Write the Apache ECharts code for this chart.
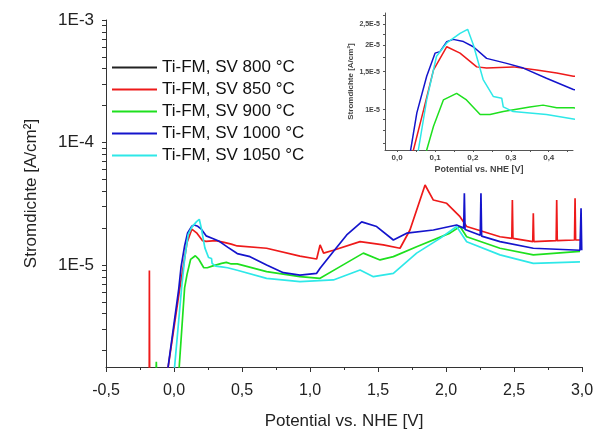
<!DOCTYPE html>
<html>
<head>
<meta charset="utf-8">
<script src="https://cdn.jsdelivr.net/npm/echarts@6/dist/echarts.min.js"></script>
<style>html,body{margin:0;padding:0;background:#fff}#c{width:595px;height:432px}</style>
</head>
<body>
<div id="c"></div>
<script>
// ---- data (potential V vs NHE, current density A/cm2); null = gap ----
const seriesNames = ['Ti-FM, SV 800 °C','Ti-FM, SV 850 °C','Ti-FM, SV 900 °C','Ti-FM, SV 1000 °C','Ti-FM, SV 1050 °C'];
const seriesColors = ['#222222','#ee1a1a','#1ee01e','#1414cc','#2ee8e8'];

const pot800 = [];
const cur800 = [];

const pot850 = [-0.182,-0.181,-0.179,null,-0.05,0.043,0.070,0.096,0.131,0.166,0.210,0.236,0.306,0.368,0.421,0.465,0.681,0.926,1.049,1.074,1.100,1.172,1.368,1.539,1.662,1.735,1.846,1.907,2.005,2.103,2.152,2.397,2.484,2.488,2.492,2.638,2.642,2.646,2.810,2.814,2.818,2.945,2.949,2.953,2.985];
const cur850 = [1.0e-6,9.0e-6,1.0e-6,null,1.3e-6,6.5e-6,1.0e-5,1.53e-5,1.96e-5,1.83e-5,1.58e-5,1.56e-5,1.58e-5,1.53e-5,1.48e-5,1.43e-5,1.37e-5,1.18e-5,1.12e-5,1.46e-5,1.25e-5,1.32e-5,1.55e-5,1.46e-5,1.37e-5,1.93e-5,4.5e-5,3.39e-5,3.19e-5,2.48e-5,2.06e-5,1.70e-5,1.65e-5,3.39e-5,1.65e-5,1.55e-5,2.64e-5,1.55e-5,1.58e-5,3.39e-5,1.58e-5,1.60e-5,3.5e-5,1.60e-5,1.60e-5];

const pot900 = [-0.135,-0.13,-0.125,null,0.035,0.078,0.096,0.122,0.157,0.183,0.219,0.245,0.28,0.35,0.385,0.421,0.465,0.681,0.926,1.074,1.221,1.392,1.515,1.613,1.784,2.029,2.103,2.152,2.397,2.642,2.985];
const cur900 = [1.0e-6,1.62e-6,1.0e-6,null,1.3e-6,6.5e-6,8.38e-6,1.11e-5,1.19e-5,1.11e-5,9.5e-6,9.5e-6,9.8e-6,1.03e-5,1.05e-5,1.02e-5,1.02e-5,8.83e-6,8.03e-6,7.78e-6,9.7e-6,1.25e-5,1.10e-5,1.17e-5,1.41e-5,1.82e-5,2.06e-5,1.70e-5,1.37e-5,1.21e-5,1.29e-5];

const pot1000 = [-0.05,0.035,0.052,0.078,0.100,0.113,0.131,0.148,0.175,0.201,0.236,0.289,0.333,0.394,0.465,0.559,0.681,0.804,0.926,1.049,1.074,1.172,1.27,1.38,1.49,1.613,1.711,1.907,2.078,2.130,2.135,2.140,2.152,2.252,2.257,2.262,2.397,2.642,2.985,2.993,2.998];
const cur1000 = [1.3e-6,6.4e-6,9.66e-6,1.43e-5,1.83e-5,1.86e-5,2.07e-5,2.12e-5,2.07e-5,1.96e-5,1.73e-5,1.64e-5,1.56e-5,1.40e-5,1.24e-5,1.17e-5,1.0e-5,8.65e-6,8.28e-6,8.55e-6,9.4e-6,1.29e-5,1.76e-5,2.25e-5,2.06e-5,1.60e-5,1.82e-5,1.93e-5,2.12e-5,2.0e-5,3.85e-5,1.95e-5,1.93e-5,1.75e-5,3.85e-5,1.72e-5,1.55e-5,1.37e-5,1.32e-5,2.9e-5,1.32e-5];

const pot1050 = [0.0,0.056,0.078,0.104,0.131,0.166,0.186,0.201,0.227,0.254,0.276,0.28,0.306,0.35,0.394,0.465,0.681,0.926,1.172,1.368,1.466,1.613,1.784,1.956,2.078,2.152,2.397,2.642,2.985];
const cur1050 = [1.3e-6,6.5e-6,1.11e-5,1.77e-5,2.04e-5,2.26e-5,2.36e-5,2.0e-5,1.38e-5,1.15e-5,1.13e-5,1.03e-5,9.8e-6,9.66e-6,9.5e-6,9.06e-6,7.78e-6,7.31e-6,7.55e-6,9.1e-6,8.03e-6,8.55e-6,1.25e-5,1.65e-5,2.06e-5,1.55e-5,1.21e-5,1.03e-5,1.06e-5];

// axis ticks / labels
const mainXTicks = [-0.5,0,0.5,1,1.5,2,2.5,3];
const mainYLabels = ['1E-5','1E-4','1E-3'];
const mainYMajor = [1e-5,1e-4,1e-3];
const mainYMin = 1.47e-6, mainYMax = 1e-3;
const insetXTicks = [0,0.1,0.2,0.3,0.4];
const insetXMinor = [0.05,0.15,0.25,0.35,0.45];
const insetYMajor = [1e-5,1.5e-5,2e-5,2.5e-5];
const insetYLabels = ['1E-5','1,5E-5','2E-5','2,5E-5'];
const insetYMinor = [7e-6,8e-6,9e-6,1.25e-5,1.75e-5,2.25e-5,2.75e-5];
const insetXMin = -0.032, insetXMax = 0.464, insetYMin = 6.5e-6, insetYMax = 2.81e-5;

// ---- build ----
const L = Math.log10;
function pairs(p, c){ return p.map((v,i)=> v===null ? '-' : [v, L(c[i])]); }
const allPot = [pot800,pot850,pot900,pot1000,pot1050];
const allCur = [cur800,cur850,cur900,cur1000,cur1050];

const mainYTickVals = mainYMajor.map(L);
for (let e=-6; e<=-4; e++) for (let k=2;k<=9;k++){ const v=k*Math.pow(10,e); if (v>=mainYMin && v<=mainYMax) mainYTickVals.push(L(v)); }
mainYTickVals.sort((a,b)=>a-b);
const insetYTickVals = insetYMajor.concat(insetYMinor).map(L).sort((a,b)=>a-b);
const insetXTickVals = insetXTicks.concat(insetXMinor).sort((a,b)=>a-b);

const font = 'Liberation Sans, Arial, sans-serif';
const axisCol = '#333';
const series = [];
seriesNames.forEach((n,i)=>{
  series.push({name:n,type:'line',xAxisIndex:0,yAxisIndex:0,data:pairs(allPot[i],allCur[i]),
    showSymbol:false,symbol:'none',clip:true,connectNulls:false,
    lineStyle:{color:seriesColors[i],width:1.7},itemStyle:{color:seriesColors[i]},z:2+i});
});
seriesNames.forEach((n,i)=>{
  if(allPot[i].length===0) return;
  series.push({name:n,type:'line',xAxisIndex:1,yAxisIndex:1,data:pairs(allPot[i],allCur[i]),
    showSymbol:false,symbol:'none',clip:true,connectNulls:false,
    lineStyle:{color:seriesColors[i],width:1.5},itemStyle:{color:seriesColors[i]},z:20+i});
});

const chart = echarts.init(document.getElementById('c'), null, {renderer:'canvas'});
chart.setOption({
  animation:false,
  backgroundColor:'#fff',
  textStyle:{fontFamily:font},
  grid:[
    {left:106,right:13,top:20,bottom:65,outerBoundsMode:'none',containLabel:false},
    {left:385,right:22,top:13,bottom:282,outerBoundsMode:'none',containLabel:false}
  ],
  legend:{
    orient:'vertical',left:112,top:59,padding:0,itemWidth:45,itemHeight:2,itemGap:5,icon:'rect',
    data:seriesNames,
    textStyle:{fontSize:17,color:'#111',fontFamily:font,lineHeight:17}
  },
  xAxis:[
    {type:'value',gridIndex:0,min:-0.5,max:3.0,interval:0.5,
     name:'Potential vs. NHE [V]',nameLocation:'middle',nameGap:46,
     nameTextStyle:{fontSize:17,color:'#222',fontFamily:font},
     axisLine:{onZero:false,lineStyle:{color:axisCol,width:1}},
     axisTick:{show:true,length:5,lineStyle:{color:axisCol}},
     minorTick:{show:true,splitNumber:2,length:3,lineStyle:{color:axisCol}},
     axisLabel:{fontSize:16,color:'#222',margin:16,
       customValues:mainXTicks,
       formatter:v=>v.toFixed(1).replace('.',',')},
     splitLine:{show:false}},
    {type:'value',gridIndex:1,min:insetXMin,max:insetXMax,
     name:'Potential vs. NHE [V]',nameLocation:'middle',nameGap:15,
     nameTextStyle:{fontSize:9,fontWeight:'bold',color:'#444',fontFamily:font},
     axisLine:{onZero:false,lineStyle:{color:'#555',width:1}},
     axisTick:{show:true,length:2,customValues:insetXTickVals,lineStyle:{color:'#555'}},
     axisLabel:{fontSize:8,fontWeight:'bold',color:'#444',margin:4,
       customValues:insetXTicks,formatter:v=>v.toFixed(1).replace('.',',')},
     splitLine:{show:false}}
  ],
  yAxis:[
    {type:'value',gridIndex:0,min:L(mainYMin),max:L(mainYMax),
     name:'Stromdichte [A/cm²]',nameLocation:'middle',nameGap:66,
     nameTextStyle:{fontSize:17,color:'#222',fontFamily:font},
     axisLine:{show:true,onZero:false,lineStyle:{color:axisCol,width:1}},
     axisTick:{show:true,length:4,customValues:mainYTickVals,lineStyle:{color:axisCol}},
     axisLabel:{fontSize:17,color:'#222',margin:12,customValues:mainYMajor.map(L),
       formatter:v=>{const i=mainYMajor.findIndex(m=>Math.abs(L(m)-v)<1e-6);return i>=0?mainYLabels[i]:'';}},
     splitLine:{show:false}},
    {type:'value',gridIndex:1,min:L(insetYMin),max:L(insetYMax),
     name:'Stromdichte [A/cm²]',nameLocation:'middle',nameGap:30,
     nameTextStyle:{fontSize:8,fontWeight:'bold',color:'#444',fontFamily:font},
     axisLine:{show:true,onZero:false,lineStyle:{color:'#555',width:1}},
     axisTick:{show:true,length:2,customValues:insetYTickVals,lineStyle:{color:'#555'}},
     axisLabel:{fontSize:7,fontWeight:'bold',color:'#444',margin:5,customValues:insetYMajor.map(L),
       formatter:v=>{const i=insetYMajor.findIndex(m=>Math.abs(L(m)-v)<1e-6);return i>=0?insetYLabels[i]:'';}},
     splitLine:{show:false}}
  ],
  series:series
});
</script>
</body>
</html>
